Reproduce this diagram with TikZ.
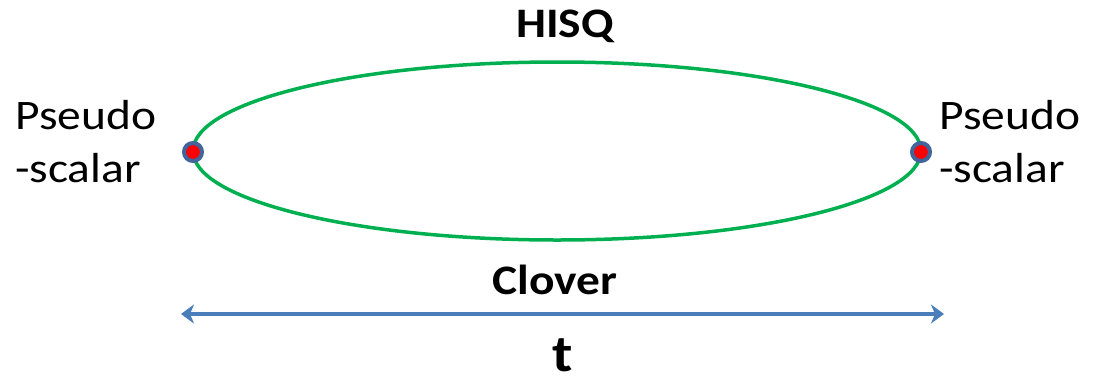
\documentclass[tikz,border=0pt]{standalone}
\usepackage{fontspec}
\setmainfont{Carlito}[FakeStretch=1.13]
\usetikzlibrary{arrows.meta}
\definecolor{ellgreen}{RGB}{0,176,80}
\definecolor{arrblue}{RGB}{74,126,187}
\definecolor{ringblue}{RGB}{65,101,154}
\definecolor{dotred}{RGB}{255,0,0}
\tikzset{
  lbl/.style={inner sep=0pt, font=\fontsize{42}{53}\selectfont, align=left, anchor=base west},
  boldlbl/.style={inner sep=0pt, font=\fontsize{42}{53}\selectfont\bfseries, anchor=base},
  enddot/.style={circle, draw=ringblue, fill=dotred, line width=4pt, minimum size=18pt, inner sep=0pt},
  loop/.style={draw=ellgreen, line width=3.5pt},
  timearrow/.style={draw=arrblue, line width=3.5pt, {Stealth[length=13pt,width=19pt,inset=4pt]}-{Stealth[length=13pt,width=19pt,inset=4pt]}}
}
\begin{document}
\begin{tikzpicture}[x=1pt,y=-1pt]
\useasboundingbox (0,0) rectangle (1099,378);
\draw[loop] (557,151) ellipse [x radius=364, y radius=89];
\node[enddot] (L) at (193,152) {};
\node[enddot] (R) at (921,152) {};
\node[boldlbl] (hisq) at (565,37) {HISQ};
\node[boldlbl] (clover) at (555,294) {Clover};
\node[boldlbl, text depth=0pt, font=\fontsize{52}{60}\selectfont\bfseries] (t) at (563,371) {t};
\node[lbl] (pl) at (15,182) {Pseudo\\-scalar};
\node[lbl] (pr) at (939,182) {Pseudo\\-scalar};
\coordinate (aL) at (181,314);
\coordinate (aR) at (944,314);
\draw[timearrow] (aL) -- (aR);
\end{tikzpicture}
\end{document}
